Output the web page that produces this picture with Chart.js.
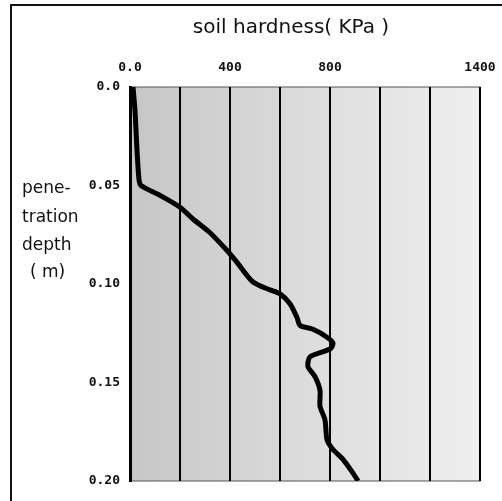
<!DOCTYPE html>
<html>
<head>
<meta charset="utf-8">
<script src="https://cdn.jsdelivr.net/npm/chart.js@4"></script>
<style>
  html, body { margin: 0; padding: 0; background: #fff; }
  #wrap { position: relative; width: 502px; height: 501px; }
</style>
</head>
<body>
<div id="wrap"><canvas id="myChart" width="502" height="501"></canvas></div>
<script>
// soil hardness (KPa) vs penetration depth (m)
const depth = [0.000, 0.012, 0.032, 0.047, 0.050, 0.055, 0.061, 0.067, 0.074, 0.083, 0.089, 0.099, 0.103, 0.105,
  0.110, 0.117, 0.121, 0.123, 0.127, 0.130, 0.133, 0.137, 0.142, 0.147, 0.154, 0.162, 0.169, 0.179, 0.184, 0.189, 0.196, 0.200];
const hardness = [12, 20, 28, 36, 44, 120, 200, 252, 320, 388, 428, 492, 560, 600,
  640, 668, 680, 732, 788, 812, 800, 720, 712, 740, 760, 760, 780, 788, 812, 852, 892, 912];
const xTickLabels = { 0: '0.0', 400: '400', 800: '800', 1400: '1400' };
const yTickLabels = { 0: '0.0', 0.05: '0.05', 0.1: '0.10', 0.15: '0.15', 0.2: '0.20' };
const chartTitle = 'soil hardness( KPa )';
const yTitleLines = ['pene-', 'tration', 'depth', '( m)'];

const points = depth.map((d, i) => ({ x: hardness[i], y: d }));

// grey plot background, outer frame, title and the left axis title lines
const decor = {
  id: 'decor',
  beforeDraw(chart) {
    const { ctx, chartArea: a } = chart;
    ctx.save();
    const g = ctx.createLinearGradient(a.left, 0, a.right, 0);
    g.addColorStop(0, '#c6c6c6');
    g.addColorStop(0.5, '#dcdcdc');
    g.addColorStop(1, '#efefef');
    ctx.fillStyle = g;
    ctx.fillRect(a.left, a.top, a.right - a.left, a.bottom - a.top);
    ctx.strokeStyle = '#555';
    ctx.lineWidth = 1;
    ctx.strokeRect(a.left, a.top, a.right - a.left, a.bottom - a.top);
    // frame of the figure
    ctx.strokeStyle = '#111';
    ctx.lineWidth = 2;
    ctx.beginPath();
    ctx.moveTo(11, 501);
    ctx.lineTo(11, 5);
    ctx.lineTo(502, 5);
    ctx.stroke();
    ctx.restore();
  },
  afterDraw(chart) {
    const ctx = chart.ctx;
    ctx.save();
    ctx.fillStyle = '#111';
    ctx.font = '20px "DejaVu Sans"';
    ctx.textAlign = 'center';
    ctx.textBaseline = 'middle';
    ctx.fillText(chartTitle, 291, 28);
    ctx.font = '17px "DejaVu Sans"';
    ctx.textAlign = 'left';
    ctx.textBaseline = 'alphabetic';
    const ys = [193, 222, 250, 277];
    const xs = [22, 22, 22, 30];
    yTitleLines.forEach((t, i) => ctx.fillText(t, xs[i], ys[i]));
    ctx.restore();
  }
};

new Chart(document.getElementById('myChart'), {
  type: 'line',
  data: {
    datasets: [{
      data: points,
      borderColor: '#000',
      borderWidth: 5,
      pointRadius: 0,
      tension: 0.25,
      fill: false
    }]
  },
  options: {
    responsive: false,
    animation: false,
    layout: { padding: { left: 80, right: 22, top: 39, bottom: 20 } },
    plugins: {
      legend: { display: false },
      tooltip: { enabled: false },
      title: { display: false }
    },
    scales: {
      x: {
        type: 'linear',
        position: 'top',
        min: 0,
        max: 1400,
        afterFit: s => { s.height = 48; s.paddingLeft = 0; s.paddingRight = 0; },
        ticks: {
          stepSize: 200,
          autoSkip: false,
          maxRotation: 0,
          padding: 12,
          color: '#111',
          font: { family: 'DejaVu Sans Mono', size: 13, weight: 'bold' },
          callback: v => xTickLabels[v] !== undefined ? xTickLabels[v] : ''
        },
        grid: { color: '#000', lineWidth: 2, drawTicks: false },
        border: { display: false }
      },
      y: {
        type: 'linear',
        reverse: true,
        min: 0,
        max: 0.2,
        afterFit: s => { s.width = 50; s.paddingTop = 0; s.paddingBottom = 0; },
        ticks: {
          stepSize: 0.05,
          padding: 10,
          color: '#111',
          font: { family: 'DejaVu Sans Mono', size: 13, weight: 'bold' },
          callback: v => {
            const k = Math.round(v * 100) / 100;
            return yTickLabels[k] !== undefined ? yTickLabels[k] : '';
          }
        },
        grid: { display: false, drawTicks: false },
        border: { display: true, color: '#000', width: 3 }
      }
    }
  },
  plugins: [decor]
});
</script>
</body>
</html>
